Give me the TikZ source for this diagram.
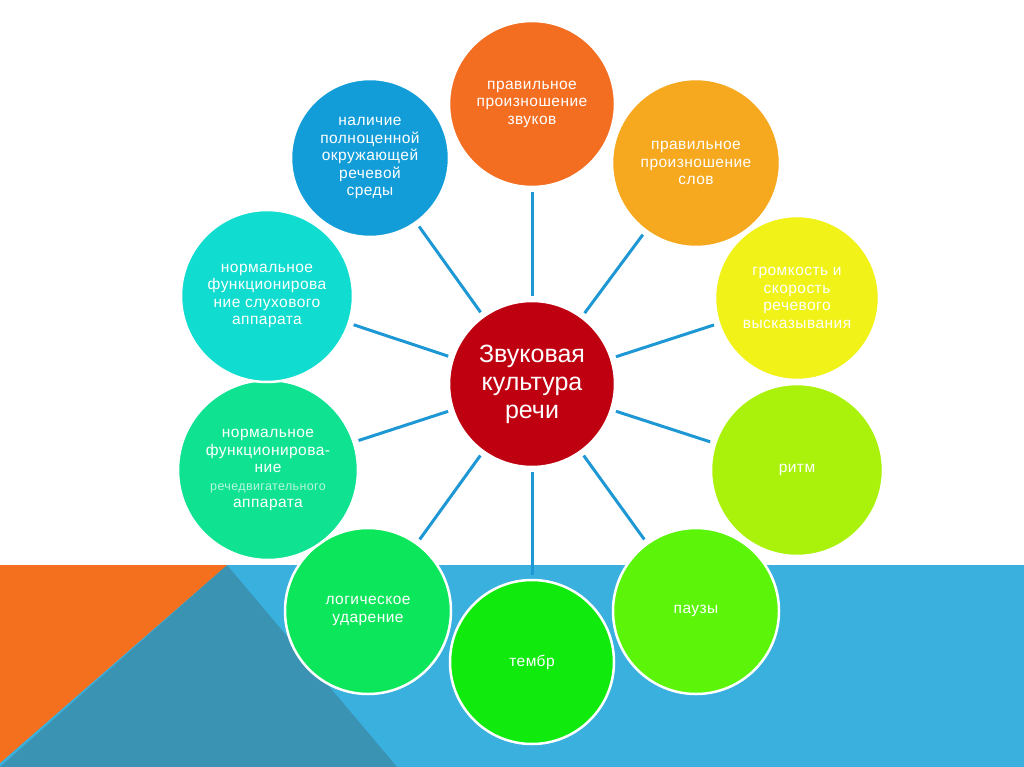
\documentclass[tikz,border=0pt]{standalone}
\usepackage{fontspec}
\setmainfont{Liberation Sans}
\newfontfamily\spaced[LetterSpace=3]{Liberation Sans}
\definecolor{bandblue}{HTML}{3AB0DE}
\definecolor{darkteal}{HTML}{3A93B2}
\definecolor{orangetri}{HTML}{F4701E}
\definecolor{linkblue}{HTML}{1E98D4}
\definecolor{cCenter}{HTML}{BF0010}
\definecolor{cTop}{HTML}{F46E22}
\definecolor{cOrY}{HTML}{F6A81E}
\definecolor{cYel}{HTML}{F0F218}
\definecolor{cLime}{HTML}{AAF20C}
\definecolor{cPauz}{HTML}{5CF50A}
\definecolor{cTemb}{HTML}{10EA0D}
\definecolor{cLog}{HTML}{0CE65A}
\definecolor{cRech}{HTML}{0FE392}
\definecolor{cSluh}{HTML}{10DDD0}
\definecolor{cBlue}{HTML}{139DD8}
\begin{document}
\begin{tikzpicture}[x=1pt,y=-1pt,
  bubble/.style={circle, draw=white, line width=2.5pt, inner sep=0pt, text=white, align=center,
    font=\spaced\fontsize{15.5}{17.5}\selectfont},
  link/.style={draw=linkblue, line width=3pt, shorten >=4pt, shorten <=4pt}]
\useasboundingbox (0,0) rectangle (1024,767);
\fill[white] (0,0) rectangle (1024,767);
\fill[bandblue] (0,565) rectangle (1024,767);
\fill[darkteal] (227,565) -- (397,767) -- (0,767) -- cycle;
\fill[orangetri] (0,565) -- (227,565) -- (0,763) -- cycle;

\node[bubble, fill=cTop, minimum size=166pt] (top) at (532,104) {правильное\\произношение\\звуков};
\node[bubble, fill=cOrY, minimum size=168pt] (ory) at (696,163) {правильное\\произношение\\слов};
\node[bubble, fill=cYel, minimum size=164pt] (yel) at (797,298) {громкость и\\скорость\\речевого\\высказывания};
\node[bubble, fill=cLime, minimum size=172pt] (rit) at (797,470) {ритм};
\node[bubble, fill=cPauz, minimum size=166pt] (pau) at (696,611) {паузы};
\node[bubble, fill=cTemb, minimum size=164pt] (tem) at (532,662) {тембр};
\node[bubble, fill=cLog, minimum size=166pt] (log) at (368,611) {логическое\\ударение};
\node[bubble, fill=cRech, minimum size=180pt] (rech) at (268,470) {нормальное\\функционирова-\\ние\\{\fontsize{12.5}{17.5}\selectfont\color{white!70!cRech}речедвигательного}\\аппарата};
\node[bubble, fill=cSluh, minimum size=172pt] (sluh) at (267,296) {нормальное\\функционирова\\ние слухового\\аппарата};
\node[bubble, fill=cBlue, minimum size=158pt] (blue) at (370,158) {наличие\\полноценной\\окружающей\\речевой\\среды};
\node[bubble, fill=cCenter, minimum size=166pt, font=\fontsize{25}{28}\selectfont] (c) at (532,384) {Звуковая\\культура\\речи};

\foreach \n in {top,ory,yel,rit,pau,tem,log,rech,sluh,blue}
  \draw[link] (c) -- (\n);
\end{tikzpicture}
\end{document}
